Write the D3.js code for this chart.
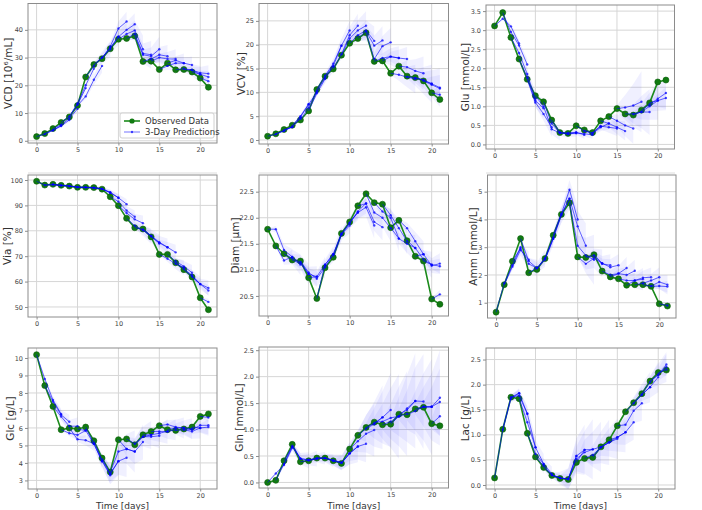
<!DOCTYPE html>
<html>
<head>
<meta charset="utf-8">
<script src="https://cdn.jsdelivr.net/npm/d3@7"></script>
<style>
  body { margin: 0; background: #fff; }
  text { font-family: "DejaVu Sans", sans-serif; }
</style>
</head>
<body>
<svg id="chart" width="702" height="510"></svg>
<script>
// days of culture
var days = [0,1,2,3,4,5,6,7,8,9,10,11,12,13,14,15,16,17,18,19,20,21];
var xTicks = [0,5,10,15,20];

// observed data, one value per day
var obsVCD  = [1.5,2.6,4.4,6.6,8.6,12.7,23,27.5,29.6,33.2,36.6,36.9,37.8,28.6,28.7,25.7,28,25.6,25.7,24.8,22.6,19.3];
var obsVCV  = [0.8,1.3,2.2,3.1,4.2,6.1,10.6,13.4,14.9,17.8,20.3,21.3,22.5,16.5,16.6,14.0,15.5,13.4,13.1,12.4,9.9,8.5];
var obsGlu  = [3.11,3.46,2.81,2.24,1.71,1.28,1.12,0.64,0.31,0.29,0.49,0.38,0.31,0.62,0.73,0.94,0.80,0.77,0.90,1.09,1.64,1.69];
var obsVia  = [99.5,98.0,98.3,97.9,97.6,97.1,97.1,97.0,96.4,93.4,89.9,84.9,81.2,80.7,77.6,70.7,70.7,67.4,64.7,61.8,53.6,48.9];
var obsDiam = [21.78,21.46,21.31,21.19,21.17,20.85,20.45,21.04,21.24,21.70,21.92,22.23,22.46,22.29,22.26,21.81,21.95,21.56,21.26,21.17,20.44,20.34];
var obsAmm  = [0.66,1.65,2.49,3.31,2.08,2.20,2.59,3.43,4.18,4.60,2.65,2.63,2.73,2.14,1.93,1.86,1.63,1.65,1.65,1.59,0.96,0.88];
var obsGlc  = [10.19,8.42,7.23,5.90,5.99,5.94,6.05,5.27,4.28,3.48,5.33,5.37,5.04,5.61,5.80,6.13,5.90,5.86,5.94,6.05,6.66,6.80];
var obsGln  = [0.0,0.04,0.41,0.72,0.39,0.41,0.46,0.46,0.41,0.36,0.63,0.89,1.04,1.14,1.09,1.10,1.29,1.28,1.39,1.42,1.11,1.07];
var obsLac  = [0.14,1.11,1.75,1.72,1.03,0.56,0.35,0.19,0.13,0.11,0.45,0.53,0.55,0.76,0.90,1.18,1.46,1.64,1.82,2.07,2.24,2.29];

// 3-day predictions: row s = predicted values for days s+1, s+2, s+3
var predVCD = [[2.4,3.8,5.5],[3.8,5.3,7.5],[5.8,8.0,11.5],[8.8,13,19],[13.5,20,26],[16,22,27],[27,30,33],[30,33.5,37.5],[34,40.5,43],[37.5,40,42],[38.5,39.8,33],[38.5,31.5,31],[31,30.5,33],[29.5,31,30.5],[30,29.5,29.5],[27,28,28],[29,28,27.3],[26,25.5,24],[25.5,24.5,24.2],[24,23],[21.5]];
var predVCV = [[1.2,2.0,2.8],[1.9,2.8,4.5],[2.7,4.8,7.5],[5,7.5,10],[6.8,10.3,13],[9.8,12.8,15.5],[13.5,16,19.8],[15.5,19.8,23],[18,22,24],[21.3,23,24],[22,23,20.8],[22.8,19.8,20.9],[17,19.7,20.5],[17.2,17.5,17.2],[17.5,17.2,17],[13.7,13.2,12.8],[15.3,14.5,14],[13,12.5,11.8],[12.6,11.8,11],[11.6,10.8],[9.5]];
var predGlu = [[3.3,3.1,2.65],[2.95,2.6,2.1],[2.4,1.85,1.2],[1.75,1.15,0.95],[1.1,0.8,0.45],[1.0,0.4,0.3],[0.55,0.3,0.28],[0.32,0.27,0.3],[0.3,0.32,0.25],[0.3,0.28,0.25],[0.35,0.3,0.48],[0.28,0.45,0.55],[0.48,0.45,0.42],[0.55,0.45,0.35],[0.62,0.5,0.42],[0.97,1.02,1.12],[0.8,0.85,0.85],[0.86,1.0,1.15],[1.05,1.2,1.35],[1.15,1.22],[]];
var predVia = [[98,98.2,97.8],[98.2,97.9,97.6],[97.9,97.6,97.2],[97.6,97.2,97.1],[97.2,97.1,96.9],[97.1,96.9,96.5],[97,96.5,95],[96.5,95.2,93],[95,93,90.5],[91.5,88,85.5],[87,84.5,83],[82,80.2,77.8],[80.5,78,75],[78,75.5,73.5],[75.2,73.5,71.5],[69,67,65.5],[68,66,63.5],[65,62.5,59],[62,59,57.5],[59,56.5],[52]];
var predDiam = [[21.78,21.38,21.25],[21.18,21.25,21.1],[21.22,21.15,20.92],[21.12,20.92,20.87],[20.95,20.83,21.05],[20.87,21.1,21.3],[21.1,21.3,21.7],[21.3,21.68,21.85],[21.68,21.9,22.1],[21.9,22.12,22.28],[22.1,22.2,21.85],[22.27,21.92,21.82],[22.1,22.0,21.8],[22.12,22.0,21.6],[22.05,21.8,21.55],[21.6,21.5,21.42],[21.8,21.55,21.3],[21.42,21.2,21.1],[21.3,21.08,21.12],[21.1,21.07],[20.53]];
var predAmm = [[1.7,2.35,3.0],[2.3,2.9,2.55],[2.95,2.4,2.25],[2.5,2.25,2.6],[2.25,2.55,3.3],[2.6,3.35,4.2],[3.3,4.15,4.75],[4.2,5.07,4.0],[4.75,3.75,3.05],[3.05,2.7,2.55],[2.4,2.6,2.42],[2.7,2.4,2.35],[2.42,2.28,2.35],[2.0,2.05,2.25],[2.05,2.0,2.15],[1.8,1.8,1.85],[1.8,1.9,1.92],[1.7,1.8,1.92],[1.6,1.75,1.65],[1.6,1.58],[0.9]];
var predGlc = [[8.8,7.6,6.8],[7.5,6.75,6.35],[6.65,6.1,6.1],[5.7,5.6,5.85],[5.35,5.3,5.1],[5.85,5.1,4.1],[5.1,4.1,3.3],[4.15,3.35,4.1],[3.4,4.1,4.3],[4.65,4.8,4.65],[4.8,4.65,5.2],[5.1,5.5,5.6],[5.5,5.5,5.55],[5.6,5.7,5.8],[5.8,5.8,5.9],[6.2,6.05,6.0],[6.0,6.0,5.95],[5.9,5.8,6.0],[5.9,6.15,6.15],[6.0,6.05],[6.6]];
var predGln = [[0.17,0.33,0.65],[0.35,0.68,0.45],[0.68,0.45,0.42],[0.45,0.43,0.45],[0.42,0.46,0.46],[0.45,0.46,0.41],[0.46,0.42,0.38],[0.41,0.37,0.55],[0.37,0.55,0.68],[0.55,0.68,0.73],[0.78,0.92,0.99],[1.02,1.1,1.23],[1.12,1.23,1.37],[1.15,1.22,1.25],[1.15,1.25,1.3],[1.25,1.4,1.54],[1.37,1.54,1.53],[1.35,1.43,1.43],[1.43,1.43,1.6],[1.43,1.52],[1.25]];
var predLac = [[1.1,1.72,1.83],[1.75,1.78,1.42],[1.83,1.42,0.75],[1.25,0.75,0.42],[0.62,0.42,0.22],[0.38,0.2,0.14],[0.2,0.14,0.12],[0.14,0.12,0.58],[0.12,0.58,0.7],[0.52,0.65,0.71],[0.7,0.71,0.76],[0.6,0.75,0.85],[0.75,0.85,0.92],[0.85,0.95,1.05],[0.95,1.05,1.25],[1.2,1.48,1.63],[1.63,1.8,1.95],[1.8,1.95,2.15],[2.05,2.2,2.35],[2.2,2.4],[2.3]];

// uncertainty half-width at the 3rd day, per prediction start
var bandVCD  = [0.5,0.7,1,1.5,2,2.5,3,3,3.5,4,5,5,4.5,4,3.5,3.5,3,3,3,3,3];
var bandVCV  = [0.3,0.4,0.6,0.8,1,1.2,1.5,2,2.5,3,3,3,3,2.5,2.5,3,3.5,4,4,4,4];
var bandGlu  = [0.1,0.15,0.2,0.25,0.25,0.2,0.1,0.1,0.1,0.1,0.1,0.15,0.2,0.25,0.4,0.8,0.6,0.5,0.45,0.4,0.4];
var bandVia  = [0.8,0.8,0.8,0.8,0.8,0.8,1,1.5,2,2.5,3,3,3.5,3.5,3,3,3,3,3,3,3];
var bandDiam = [0.15,0.2,0.2,0.2,0.2,0.15,0.15,0.15,0.15,0.2,0.25,0.25,0.25,0.25,0.25,0.25,0.25,0.25,0.2,0.2,0.2];
var bandAmm  = [0.2,0.3,0.3,0.3,0.25,0.3,0.4,0.5,0.8,0.9,0.5,0.4,0.4,0.4,0.4,0.4,0.35,0.35,0.35,0.3,0.3];
var bandGlc  = [0.3,0.4,0.5,0.4,0.4,0.4,0.5,0.8,1.1,1.2,1.0,0.8,0.7,0.7,0.6,0.6,0.6,0.6,0.6,0.6,0.6];
var bandGln  = [0.05,0.1,0.15,0.15,0.12,0.12,0.15,0.2,0.3,0.35,0.5,0.6,0.7,0.8,0.8,0.9,0.9,0.9,0.9,0.9,0.9];
var bandLac  = [0.1,0.15,0.2,0.2,0.15,0.1,0.1,0.3,0.5,0.6,0.5,0.45,0.4,0.4,0.35,0.35,0.3,0.3,0.3,0.3,0.3];

// y tick labels
var ticksVCD  = [0,10,20,30,40];
var ticksVCV  = [0,5,10,15,20,25];
var ticksGlu  = [0,0.5,1,1.5,2,2.5,3,3.5];
var ticksVia  = [50,60,70,80,90,100];
var ticksDiam = [20.5,21,21.5,22,22.5];
var ticksAmm  = [1,2,3,4,5];
var ticksGlc  = [3,4,5,6,7,8,9,10];
var ticksGln  = [0,0.5,1,1.5,2,2.5];
var ticksLac  = [0,0.5,1,1.5,2,2.5];

var panels = [
  {label:"VCD [10⁶/mL]", obs:obsVCD, pred:predVCD, band:bandVCD, ticks:ticksVCD, fmt:"d", rect:[28,3.5,217,143], yDom:[-0.8,49.5], lx:8},
  {label:"VCV [%]", obs:obsVCV, pred:predVCV, band:bandVCV, ticks:ticksVCV, fmt:"d", rect:[259,3.5,448.5,144], yDom:[-0.84,28.65], lx:241},
  {label:"Glu [mmol/L]", obs:obsGlu, pred:predGlu, band:bandGlu, ticks:ticksGlu, fmt:".1f", rect:[486,5,674.5,149], yDom:[-0.12,3.66], lx:465},
  {label:"Via [%]", obs:obsVia, pred:predVia, band:bandVia, ticks:ticksVia, fmt:"d", rect:[28,175,217,317], yDom:[46.05,101.97], lx:7},
  {label:"Diam [μm]", obs:obsDiam, pred:predDiam, band:bandDiam, ticks:ticksDiam, fmt:".1f", rect:[259,175,448.5,316], yDom:[20.115,22.82], lx:235},
  {label:"Amm [mmol/L]", obs:obsAmm, pred:predAmm, band:bandAmm, ticks:ticksAmm, fmt:"d", rect:[487.5,175,676,318], yDom:[0.45,5.6], lx:473},
  {label:"Glc [g/L]", obs:obsGlc, pred:predGlc, band:bandGlc, ticks:ticksGlc, fmt:"d", rect:[28,348,217,489], yDom:[2.51,10.57], lx:10, xlab:true},
  {label:"Gln [mmol/L]", obs:obsGln, pred:predGln, band:bandGln, ticks:ticksGln, fmt:".1f", rect:[259,347,448.5,488], yDom:[-0.105,2.56], lx:239, xlab:true},
  {label:"Lac [g/L]", obs:obsLac, pred:predLac, band:bandLac, ticks:ticksLac, fmt:".1f", rect:[486,348,675,489], yDom:[-0.08,2.73], lx:465, xlab:true}
];

var svg = d3.select("#chart");

// faint separators under the first row
[[28,217],[259,448.5],[486,675]].forEach(function(c){
  svg.append("line").attr("x1",c[0]).attr("x2",c[1]).attr("y1",173).attr("y2",173)
    .attr("stroke","#dcdcdc").attr("stroke-width",1);
});

panels.forEach(function(p, i){
  var L = p.rect[0], T = p.rect[1], R = p.rect[2], B = p.rect[3];
  var x = d3.scaleLinear().domain([-1.05, 22.05]).range([L, R]);
  var y = d3.scaleLinear().domain(p.yDom).range([B, T]);
  var g = svg.append("g");

  g.append("clipPath").attr("id","clip"+i)
    .append("rect").attr("x",L).attr("y",T).attr("width",R-L).attr("height",B-T);

  // grid
  g.selectAll(".vg").data(xTicks).enter().append("line")
    .attr("x1",function(d){return x(d);}).attr("x2",function(d){return x(d);})
    .attr("y1",T).attr("y2",B).attr("stroke","#d6d6d6").attr("stroke-width",1);
  g.selectAll(".hg").data(p.ticks).enter().append("line")
    .attr("y1",function(d){return y(d);}).attr("y2",function(d){return y(d);})
    .attr("x1",L).attr("x2",R).attr("stroke","#d6d6d6").attr("stroke-width",1);

  var plot = g.append("g").attr("clip-path","url(#clip"+i+")");

  // prediction paths (start at the observed value of day s)
  var paths = p.pred.map(function(row, s){
    var pts = [{d:s, v:p.obs[s], h:0}];
    row.forEach(function(v, k){ pts.push({d:s+k+1, v:v, h:k+1}); });
    return {s:s, pts:pts};
  }).filter(function(o){ return o.pts.length > 1; });

  // uncertainty fans
  var area = d3.area()
    .x(function(d){return x(d.d);})
    .y0(function(d){return y(d.v - d.w);})
    .y1(function(d){return y(d.v + d.w);});
  paths.forEach(function(o){
    var pts = o.pts.map(function(q){
      return {d:q.d, v:q.v, w:p.band[o.s]*(0.12 + 0.88*q.h/3)};
    });
    plot.append("path").attr("d", area(pts))
      .attr("fill","#3c3cff").attr("fill-opacity",0.075);
  });

  // observed
  var line = d3.line().x(function(d,k){return x(days[k]);}).y(function(d){return y(d);});
  plot.append("path").attr("d", line(p.obs)).attr("fill","none")
    .attr("stroke","#1b8a1b").attr("stroke-width",1.6);
  plot.selectAll(".obs").data(p.obs).enter().append("circle")
    .attr("cx",function(d,k){return x(days[k]);}).attr("cy",function(d){return y(d);})
    .attr("r",3).attr("fill","#117a11").attr("stroke","#0a5e0a").attr("stroke-width",0.6);

  // predictions
  var pline = d3.line().x(function(d){return x(d.d);}).y(function(d){return y(d.v);});
  paths.forEach(function(o){
    plot.append("path").attr("d", pline(o.pts)).attr("fill","none")
      .attr("stroke","#0000ff").attr("stroke-opacity",0.6).attr("stroke-width",1);
    plot.selectAll(null).data(o.pts.slice(1)).enter().append("circle")
      .attr("cx",function(d){return x(d.d);}).attr("cy",function(d){return y(d.v);})
      .attr("r",1.2).attr("fill","#0000ff").attr("fill-opacity",0.7);
  });

  // frame
  g.append("rect").attr("x",L).attr("y",T).attr("width",R-L).attr("height",B-T)
    .attr("fill","none").attr("stroke","#8c8c8c").attr("stroke-width",1);

  // axes
  var ax = g.append("g").attr("transform","translate(0,"+B+")")
    .call(d3.axisBottom(x).tickValues(xTicks).tickSize(2.5).tickPadding(1.5).tickFormat(d3.format("d")));
  var ay = g.append("g").attr("transform","translate("+L+",0)")
    .call(d3.axisLeft(y).tickValues(p.ticks).tickSize(3).tickPadding(2).tickFormat(d3.format(p.fmt)));
  [ax, ay].forEach(function(a){
    a.select(".domain").remove();
    a.selectAll(".tick line").attr("stroke","#8c8c8c");
    a.selectAll(".tick text").attr("fill","#444").style("font-size","6.5px")
      .style("font-family","DejaVu Sans, sans-serif");
  });

  // y label
  g.append("text")
    .attr("transform","translate("+p.lx+","+((T+B)/2)+") rotate(-90)")
    .attr("text-anchor","middle").attr("dominant-baseline","central")
    .attr("fill","#333").style("font-size","10.5px").text(p.label);

  if (p.xlab) {
    g.append("text").attr("x",(L+R)/2).attr("y",508.5)
      .attr("text-anchor","middle").attr("fill","#333")
      .style("font-size","9px").text("Time [days]");
  }
});

// legend in the first panel
var lg = svg.append("g").attr("transform","translate(120,113)");
lg.append("rect").attr("width",94).attr("height",25).attr("rx",2)
  .attr("fill","#fff").attr("fill-opacity",0.85).attr("stroke","#d0d0d0");
lg.append("line").attr("x1",4).attr("x2",20).attr("y1",8).attr("y2",8)
  .attr("stroke","#1b8a1b").attr("stroke-width",1.6);
lg.append("circle").attr("cx",12).attr("cy",8).attr("r",2.6).attr("fill","#117a11");
lg.append("line").attr("x1",4).attr("x2",20).attr("y1",19).attr("y2",19)
  .attr("stroke","#0000ff").attr("stroke-opacity",0.55).attr("stroke-width",1);
lg.append("circle").attr("cx",12).attr("cy",19).attr("r",1.2).attr("fill","#0000ff").attr("fill-opacity",0.7);
lg.append("text").attr("x",25).attr("y",11).attr("fill","#333").style("font-size","8.5px").text("Observed Data");
lg.append("text").attr("x",25).attr("y",22).attr("fill","#333").style("font-size","8.5px").text("3-Day Predictions");
</script>
</body>
</html>
